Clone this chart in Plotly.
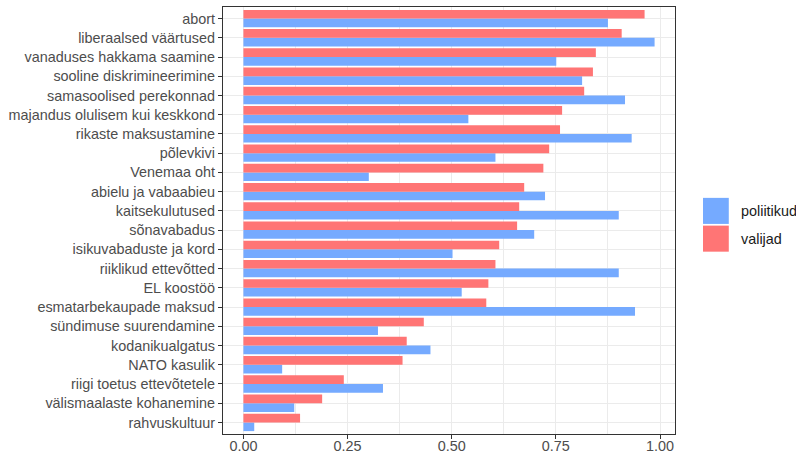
import plotly.graph_objects as go

categories = [
    "abort", "liberaalsed väärtused", "vanaduses hakkama saamine",
    "sooline diskrimineerimine", "samasoolised perekonnad",
    "majandus olulisem kui keskkond", "rikaste maksustamine", "põlevkivi",
    "Venemaa oht", "abielu ja vabaabieu", "kaitsekulutused", "sõnavabadus",
    "isikuvabaduste ja kord", "riiklikud ettevõtted", "EL koostöö",
    "esmatarbekaupade maksud", "sündimuse suurendamine", "kodanikualgatus",
    "NATO kasulik", "riigi toetus ettevõtetele", "välismaalaste kohanemine",
    "rahvuskultuur",
]
poliitikud = [0.875, 0.987, 0.751, 0.813, 0.916, 0.540, 0.932, 0.605,
              0.301, 0.724, 0.901, 0.698, 0.502, 0.901, 0.524, 0.940,
              0.323, 0.449, 0.093, 0.335, 0.122, 0.026]
valijad = [0.963, 0.908, 0.846, 0.839, 0.818, 0.765, 0.760, 0.734,
           0.720, 0.674, 0.662, 0.657, 0.614, 0.605, 0.588, 0.583,
           0.433, 0.392, 0.382, 0.241, 0.189, 0.136]
series_names = ["poliitikud", "valijad"]
series_colors = ["#75AAFF", "#FF7575"]
x_ticks = [0, 0.25, 0.5, 0.75, 1.0]

FONT = "Liberation Sans, Arial, sans-serif"
FS = 14.4

fig = go.Figure()
for name, vals, col in zip(series_names, [poliitikud, valijad], series_colors):
    fig.add_trace(go.Bar(
        y=categories, x=vals, name=name, orientation="h",
        marker=dict(color=col, line=dict(width=0)),
        showlegend=False,
    ))

fig.update_layout(
    width=796, height=452,
    margin=dict(l=223, r=121, t=7, b=18),
    plot_bgcolor="white", paper_bgcolor="white",
    barmode="group", bargap=0.1, bargroupgap=0,
    font=dict(family=FONT, size=FS, color="#4D4D4D"),
    xaxis=dict(
        range=[-0.049, 1.036], tickvals=x_ticks, tickformat=".2f",
        automargin=False, ticklabelstandoff=-5,
        showgrid=True, gridcolor="#EBEBEB", gridwidth=1.1,
        minor=dict(dtick=0.125, tick0=0, showgrid=True, gridcolor="#EBEBEB", gridwidth=0.6),
        zeroline=False, showline=True, linecolor="#333333", linewidth=1.3,
        mirror=True, ticks="outside", ticklen=4, tickcolor="#333333",
        tickfont=dict(size=FS, color="#4D4D4D"),
    ),
    yaxis=dict(
        categoryorder="array", categoryarray=list(reversed(categories)),
        range=[-0.6, len(categories) - 0.4],
        automargin=False,
        showgrid=True, gridcolor="#EBEBEB", gridwidth=1.1,
        zeroline=False, showline=True, linecolor="#333333", linewidth=1.3,
        mirror=True, ticks="outside", ticklen=4, tickcolor="#333333",
        tickfont=dict(size=FS, color="#4D4D4D"),
    ),
)

# legend drawn as keys + text (ggplot style large keys)
key_y = [(0.553, 0.492), (0.488, 0.427)]
for (y1, y0), name, col in zip(key_y, series_names, series_colors):
    fig.add_shape(type="rect", xref="paper", yref="paper",
                  x0=1.062, x1=1.119, y0=y0, y1=y1,
                  fillcolor=col, line=dict(width=0))
    fig.add_annotation(xref="paper", yref="paper", x=1.1416, y=(y0 + y1) / 2,
                       text=name, showarrow=False, xanchor="left", yanchor="middle",
                       font=dict(family=FONT, size=FS, color="#1A1A1A"))

fig.write_html("out.html", config={"displayModeBar": False},
               post_script="document.body.style.margin='0';document.body.style.overflow='hidden';")
